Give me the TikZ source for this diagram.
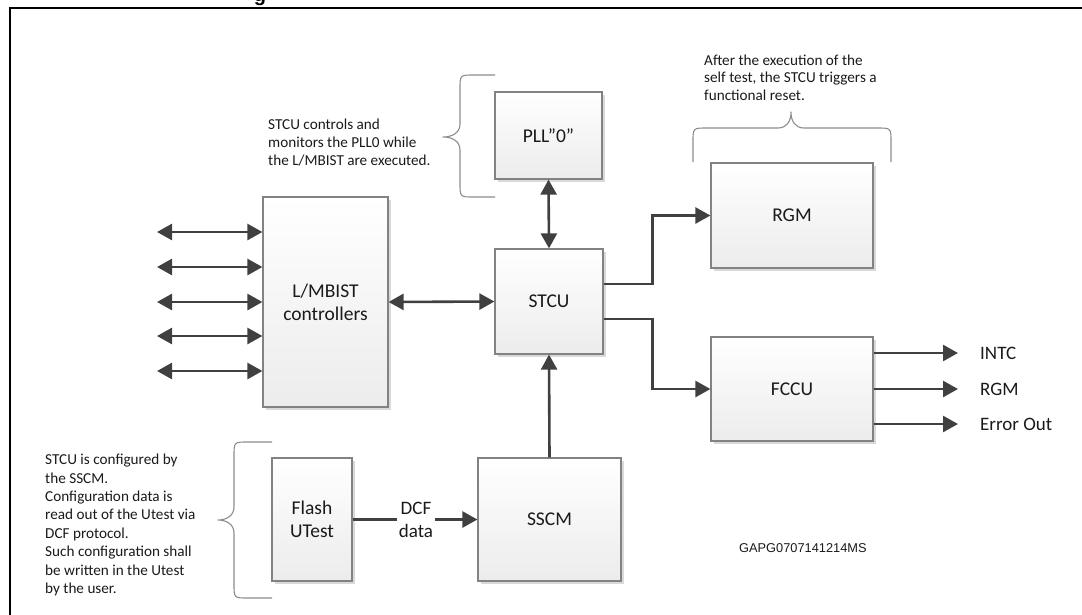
\documentclass[tikz,border=0pt]{standalone}
\usepackage{fontspec}
\setmainfont{Carlito}
\newfontfamily\arialfont{Liberation Sans}
\usetikzlibrary{arrows.meta,shadows,calc}

\definecolor{linedark}{HTML}{404040}
\definecolor{boxedge}{HTML}{828282}
\definecolor{boxlow}{HTML}{ECECEC}
\definecolor{bracegray}{HTML}{8C8C8C}
\definecolor{notetext}{HTML}{1A1A1A}

\tikzset{
  block/.style={draw=boxedge, line width=1.2pt, top color=white, bottom color=boxlow,
    drop shadow={shadow xshift=2.5pt, shadow yshift=-2.5pt, fill=black, opacity=0.15},
    inner sep=0pt, align=center, font=\fontsize{19.5}{23}\selectfont, text=notetext},
  arr/.style={draw=linedark, line width=2.6pt, -{Triangle[length=15pt,width=16pt]}},
  darr/.style={draw=linedark, line width=2.6pt, {Triangle[length=15pt,width=16pt]}-{Triangle[length=15pt,width=16pt]}},
  note/.style={anchor=north west, inner sep=0pt, align=left, text=notetext},
  bracepath/.style={draw=bracegray, line width=1.1pt, line join=round},
  outlabel/.style={anchor=west, inner sep=0pt, font=\fontsize{19}{22}\selectfont, text=notetext}
}

\begin{document}
\begin{tikzpicture}[x=1pt, y=-1pt]
\useasboundingbox (0,0) rectangle (1082,614);

% frame of the figure and the clipped title above it
\node[anchor=base, inner sep=0pt, font=\arialfont\bfseries\fontsize{20}{24}\selectfont] (titlefrag) at (260,1) {g};
\draw[line width=2.6pt] (10,640) -- (10,8) -- (1100,8);

% blocks
\node[block, minimum width=107pt, minimum height=87pt]  (pll)   at (548.5,135.5) {PLL”0\symbol{34}};
\node[block, minimum width=108pt, minimum height=105pt] (stcu)  at (549,301.5)   {STCU};
\node[block, minimum width=162pt, minimum height=105pt] (rgm)   at (792,215.5)   {RGM};
\node[block, minimum width=162pt, minimum height=104pt] (fccu)  at (792,389)     {FCCU};
\node[block, minimum width=125pt, minimum height=210pt] (lmb)   at (325.5,302)   {L/MBIST\\controllers};
\node[block, minimum width=80pt,  minimum height=123pt] (flash) at (312,519.5)   {Flash\\UTest};
\node[block, minimum width=143pt, minimum height=123pt] (sscm)  at (549.5,519.5) {SSCM};

% connections between blocks
\draw[darr] (pll.south) -- (stcu.north);
\draw[darr] (stcu.west) -- (lmb.east);
\draw[arr] (sscm.north) -- (stcu.south);
\draw[arr] ([yshift=17.5pt]stcu.east) -- ++(49,0) |- (rgm.west);
\draw[arr] ([yshift=-17.5pt]stcu.east) -- ++(49,0) |- (fccu.west);
\draw[arr] (flash.east) -- (sscm.west);
\node[fill=white, inner sep=1.5pt, align=center, font=\fontsize{19}{23}\selectfont, text=notetext] (dcf) at (416,520) {DCF\\data};

% test interfaces of the L/MBIST controllers
\foreach \i/\yy in {1/232,2/267,3/302,4/336,5/371}{
  \coordinate (tp\i) at (157,\yy);
  \draw[darr] (tp\i) -- (tp\i -| lmb.west);
}

% FCCU outputs
\foreach \i/\yy/\lbl in {1/353/INTC,2/389/RGM,3/424/Error Out}{
  \coordinate (fo\i) at (958,\yy);
  \draw[arr] (fo\i -| fccu.east) -- (fo\i);
  \node[outlabel] (fol\i) at (980,\yy) {\lbl};
}

% notes with their braces
\node[note, font=\fontsize{15.2}{18}\selectfont] (notepll) at (268,119)
  {STCU controls and\\monitors the PLL0 while\\the L/MBIST are executed.};
\draw[bracepath] (495,75) -- (474,75) .. controls (460,75) .. (460,89) -- (460,124)
  .. controls (460,133) and (452,137) .. (443,137)
  .. controls (452,137) and (460,141) .. (460,150)
  -- (460,183) .. controls (460,197) .. (474,197) -- (495,197);

\node[note, font=\fontsize{15.2}{17.2}\selectfont] (notergm) at (704,55)
  {After the execution of the\\self test, the STCU triggers a\\functional reset.};
\draw[bracepath] (693,162) -- (693,142) .. controls (693,128) .. (707,128) -- (778,128)
  .. controls (787,128) and (791,121) .. (791,112)
  .. controls (791,121) and (795,128) .. (804,128)
  -- (877,128) .. controls (891,128) .. (891,142) -- (891,162);

\node[note, font=\fontsize{15.2}{18.4}\selectfont] (notesscm) at (45,454)
  {STCU is configured by\\the SSCM.\\Configuration data is\\read out of the Utest via\\DCF protocol.\\Such configuration shall\\be written in the Utest\\by the user.};
\draw[bracepath] (272,442) -- (248,442) .. controls (234,442) .. (234,456) -- (234,507)
  .. controls (234,516) and (226,520) .. (218,520)
  .. controls (226,520) and (234,524) .. (234,533)
  -- (234,584) .. controls (234,598) .. (248,598) -- (272,598);

% drawing reference
\node[anchor=base west, inner sep=0pt, font=\arialfont\fontsize{12.8}{15}\selectfont, text=notetext] (ref) at (739,552) {GAPG0707141214MS};
\end{tikzpicture}
\end{document}
